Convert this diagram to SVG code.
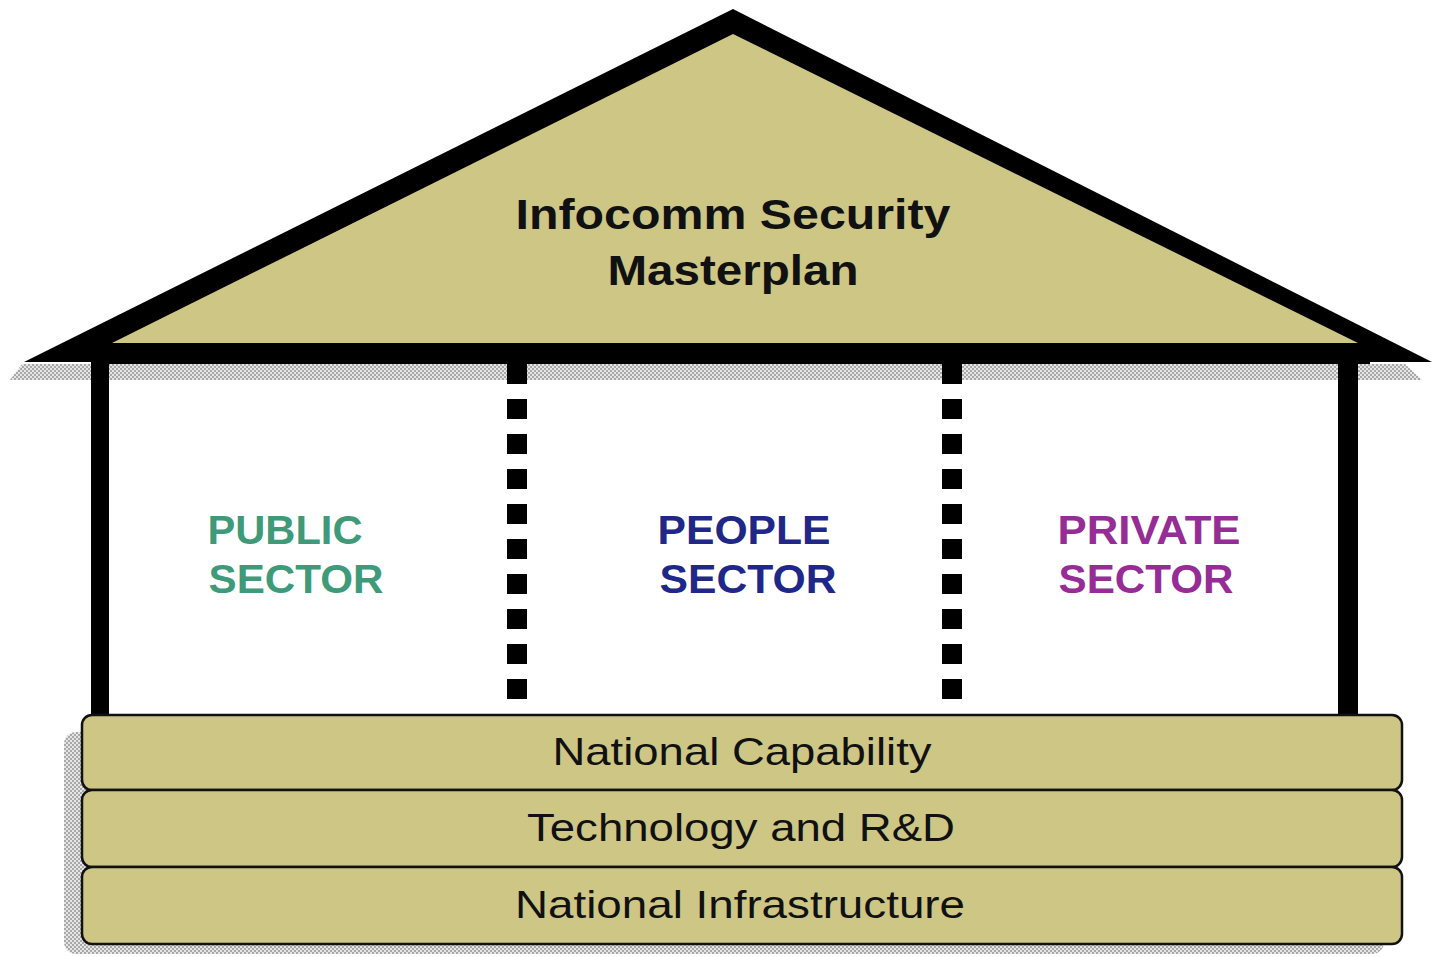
<svg xmlns="http://www.w3.org/2000/svg" width="1432" height="957" viewBox="0 0 1432 957">
<defs>
<pattern id="dots" width="4" height="4" patternUnits="userSpaceOnUse">
<rect width="4" height="4" fill="#e6e6e6"/>
<rect width="2" height="2" fill="#a8a8a8"/>
<rect x="2" y="2" width="2" height="2" fill="#a8a8a8"/>
</pattern>
</defs>
<style>
.khaki{fill:#cdc685;}
.bar{fill:#cdc685;stroke:#111;stroke-width:2.5;}
.shadow{fill:url(#dots);}
.title{font-family:"Liberation Sans",Arial,sans-serif;font-weight:bold;font-size:42px;fill:#111;text-anchor:middle;}
.sector{font-family:"Liberation Sans",Arial,sans-serif;font-weight:bold;font-size:41px;text-anchor:middle;}
.bartext{font-family:"Liberation Sans",Arial,sans-serif;font-size:39px;fill:#111;text-anchor:middle;}
.dash{stroke:#000;stroke-width:20;stroke-dasharray:20 15;fill:none;}
</style>
<rect width="1432" height="957" fill="#ffffff"/>
<g id="roof">
<polygon class="shadow" points="10,380 1422,380 1405,364 22,364"/>
<polygon points="733,9 24,362 1432,362" fill="#000"/>
<polygon class="khaki" points="733,34 112,343 1358,343"/>
<rect x="95" y="343" width="1275" height="21" fill="#000"/>
<text class="title" x="733" y="229" textLength="435" lengthAdjust="spacingAndGlyphs">Infocomm Security</text>
<text class="title" x="733" y="285" textLength="251" lengthAdjust="spacingAndGlyphs">Masterplan</text>
</g>
<g id="walls">
<rect x="91" y="362" width="18" height="356" fill="#000"/>
<rect x="1338" y="362" width="20" height="356" fill="#000"/>
<line class="dash" x1="517" y1="364" x2="517" y2="700"/>
<line class="dash" x1="952" y1="364" x2="952" y2="700"/>
</g>
<g id="public-sector">
<text class="sector" x="285" y="544" fill="#3e9a78" textLength="155" lengthAdjust="spacingAndGlyphs">PUBLIC</text>
<text class="sector" x="296" y="593" fill="#3e9a78" textLength="175" lengthAdjust="spacingAndGlyphs">SECTOR</text>
</g>
<g id="people-sector">
<text class="sector" x="744" y="544" fill="#1f2788" textLength="173" lengthAdjust="spacingAndGlyphs">PEOPLE</text>
<text class="sector" x="748" y="593" fill="#1f2788" textLength="177" lengthAdjust="spacingAndGlyphs">SECTOR</text>
</g>
<g id="private-sector">
<text class="sector" x="1149" y="544" fill="#962c96" textLength="183" lengthAdjust="spacingAndGlyphs">PRIVATE</text>
<text class="sector" x="1146" y="593" fill="#962c96" textLength="175" lengthAdjust="spacingAndGlyphs">SECTOR</text>
</g>
<g id="shadows">
<rect class="shadow" x="64" y="732" width="1320" height="222" rx="12"/>
</g>
<g id="national-capability">
<rect class="bar" x="82" y="715" width="1320" height="75" rx="10"/>
<text class="bartext" x="742" y="765" textLength="379" lengthAdjust="spacingAndGlyphs">National Capability</text>
</g>
<g id="technology">
<rect class="bar" x="82" y="790" width="1320" height="77" rx="10"/>
<text class="bartext" x="741" y="841" textLength="428" lengthAdjust="spacingAndGlyphs">Technology and R&amp;D</text>
</g>
<g id="national-infrastructure">
<rect class="bar" x="82" y="867" width="1320" height="77" rx="10"/>
<text class="bartext" x="740" y="918" textLength="450" lengthAdjust="spacingAndGlyphs">National Infrastructure</text>
</g>
<g id="connectors"></g>
</svg>
